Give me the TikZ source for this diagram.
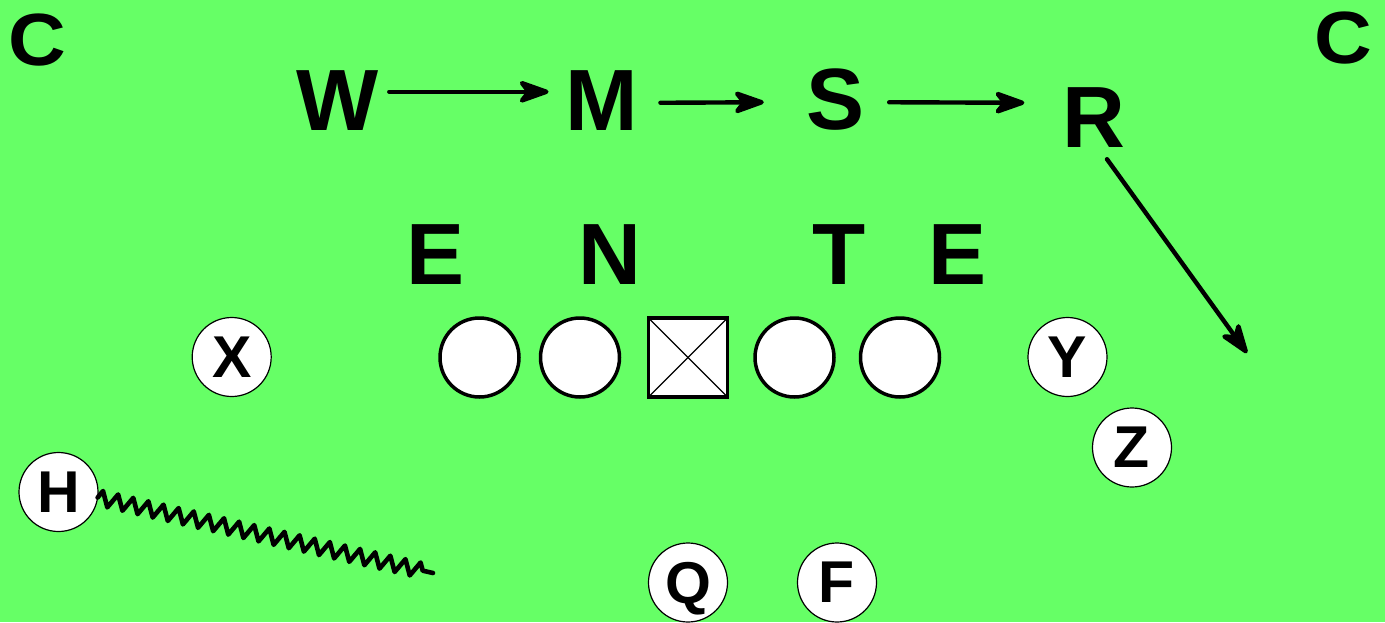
\documentclass[tikz,border=0pt]{standalone}
\usepackage{fontspec}
\setmainfont{Liberation Sans}
\usetikzlibrary{arrows.meta,decorations.pathmorphing}
\definecolor{field}{RGB}{102,255,102}
\begin{document}
\begin{tikzpicture}[x=1pt,y=-1pt,
  big/.style={anchor=base,inner sep=0pt,font=\fontsize{87}{87}\selectfont\bfseries},
  corner/.style={anchor=base,inner sep=0pt,xscale=1.08,font=\fontsize{74}{74}\selectfont\bfseries},
  skill/.style={circle,draw=black,fill=white,line width=1.2pt,minimum size=79pt,inner sep=0pt,outer sep=0pt,text depth=0pt,font=\fontsize{59}{59}\selectfont\bfseries},
  lineman/.style={circle,draw=black,fill=white,line width=3.5pt,minimum size=79pt,inner sep=0pt,outer sep=0pt},
  center/.style={rectangle,draw=black,fill=white,line width=3.5pt,minimum size=79pt,inner sep=0pt,outer sep=0pt},
  move/.style={line width=4.4pt,line cap=round,-{Stealth[length=37pt,width=26pt,inset=10pt,round]}},
  motion/.style={line width=4.6pt,line cap=round,line join=round,decorate,decoration={zigzag,segment length=15.5pt,amplitude=7.5pt,post length=4pt}}
]
\useasboundingbox (0,0) rectangle (1385,622);
\fill[field] (0,0) rectangle (1385,622);

% corners
\node[corner] (c1) at (37,65) {C};
\node[corner] (c2) at (1343,63) {C};

% linebackers
\node[big] (W) at (338,130) {W};
\node[big] (M) at (602,130) {M};
\node[big] (S) at (836,129.5) {S};
\node[big] (R) at (1094,147) {R};

% defensive line
\node[big] (e1) at (436,284) {E};
\node[big] (n) at (610,284) {N};
\node[big] (t) at (839,284) {T};
\node[big] (e2) at (958,284) {E};

% offensive line
\node[lineman] (lg) at (479.5,357.5) {};
\node[lineman] (lt) at (580,357.5) {};
\node[center] (ce) at (688,357.5) {};
\node[lineman] (rg) at (794.5,357.5) {};
\node[lineman] (rt) at (900,357.5) {};
\draw[line width=1.3pt] (ce.north west) -- (ce.south east);
\draw[line width=1.3pt] (ce.north east) -- (ce.south west);

% skill players
\node[skill] (X) at (231.7,357) {X};
\node[skill] (Y) at (1067.5,357) {Y};
\node[skill] (Z) at (1132,447.5) {Z};
\node[skill] (H) at (58.5,492) {H};
\node[skill] (Q) at (688,582.5) {Q};
\node[skill] (F) at (837,582.5) {F};

% arrows
\draw[move] ([shift={(10,-8.3)}]W.east) -- ([shift={(-17,-8.3)}]M.west);
\draw[move] ([shift={(22,2.7)}]M.east) -- ([shift={(-43,2.7)}]S.west);
\draw[move] ([shift={(24,2.7)}]S.east) -- ([shift={(-38,-14.3)}]R.west);
\coordinate (rend) at (1247,353);
\draw[move] ([shift={(13,12)}]R.south) -- (rend);

% motion
\coordinate (hend) at (433,573);
\draw[motion] (H.-8) -- (hend);
\end{tikzpicture}
\end{document}
